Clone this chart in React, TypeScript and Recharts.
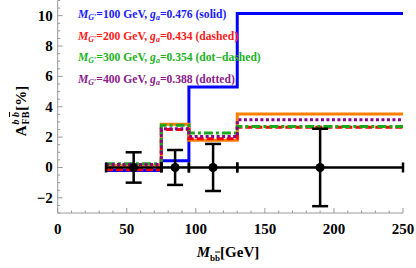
import React from 'react'
import { ComposedChart, Line, Scatter, ErrorBar, XAxis, YAxis } from 'recharts'

// bin edges in M_bb (GeV); last value repeated to close the final step
const binEdges = [35, 75, 95, 130, 250]
const blueSolid = [-0.2, 0.45, 5.3, 10.15, 10.15]
const orangeSolid = [0.15, 2.85, 1.8, 3.53, 3.53]
const redDashed = [-0.15, 2.5, 1.9, 2.65, 2.65]
const greenDotDashed = [0.25, 2.78, 2.27, 2.7, 2.7]
const purpleDotted = [0.2, 2.55, 2.04, 3.14, 3.14]

// measured points
const pointX = [55, 85, 112.5, 190]
const pointXErr = [20, 10, 17.5, 60]
const pointY = [0, 0, 0, 0]
const pointYErr = [1.0, 1.15, 1.55, 2.55]

const xMajorTicks = [0, 50, 100, 150, 200, 250]
const yMajorTicks = [-2, 0, 2, 4, 6, 8, 10]

const xTicks = Array.from({ length: 26 }, (_, i) => i * 10)
const yTicks = Array.from({ length: 29 }, (_, i) => -3 + i * 0.5)

const stepData = binEdges.map((x, i) => ({
  x,
  blue: blueSolid[i],
  orange: orangeSolid[i],
  red: redDashed[i],
  green: greenDotDashed[i],
  purple: purpleDotted[i],
}))

const pointData = pointX.map((x, i) => ({
  x,
  y: pointY[i],
  ex: pointXErr[i],
  ey: pointYErr[i],
}))

const FONT = '"Liberation Serif", "DejaVu Serif", serif'
const TICK_COLOR = '#9a9a9a'

const XTick = (props: any) => {
  const { x, y, payload } = props
  const v = payload.value
  const major = xMajorTicks.includes(v)
  return (
    <g>
      <line x1={x} x2={x} y1={y} y2={y - (major ? 5 : 2.5)} stroke={TICK_COLOR} strokeWidth={1} />
      {major && (
        <text x={x} y={y + 16} textAnchor="middle" dominantBaseline="central"
          fontFamily={FONT} fontWeight="bold" fontSize={15} fill="#000">
          {v}
        </text>
      )}
    </g>
  )
}

const YTick = (props: any) => {
  const { x, y, payload } = props
  const v = payload.value
  const major = yMajorTicks.includes(v)
  return (
    <g>
      <line x1={x} x2={x + (major ? 5 : 2.5)} y1={y} y2={y} stroke={TICK_COLOR} strokeWidth={1} />
      {major && (
        <text x={x - 5} y={y} textAnchor="end" dominantBaseline="central"
          fontFamily={FONT} fontWeight="bold" fontSize={15} fill="#000">
          {v < 0 ? `\u2212${-v}` : v}
        </text>
      )}
    </g>
  )
}

const Dot = (props: any) => <circle cx={props.cx} cy={props.cy} r={4.5} fill="#000" />

const legendRows = [
  { mass: '100', ga: '0.476', style: 'solid', color: '#1a1aff' },
  { mass: '200', ga: '0.434', style: 'dashed', color: '#ff1a1a' },
  { mass: '300', ga: '0.354', style: 'dot\u2212dashed', color: '#1db31d' },
  { mass: '400', ga: '0.388', style: 'dotted', color: '#8b1a8b' },
]

const bbar = <span style={{ textDecoration: 'overline' }}>b</span>

export default function App() {
  return (
    <div style={{ position: 'absolute', left: 0, top: 0, width: 416, height: 268, background: '#fff' }}>
      <ComposedChart width={416} height={268} data={stepData}
        margin={{ top: 0.5, right: 13, bottom: 15, left: 7.7 }}>
        <XAxis type="number" dataKey="x" domain={[0, 250]} ticks={xTicks} interval={0}
          allowDataOverflow height={40} tickSize={0} tickMargin={0} tickLine={false}
          axisLine={{ stroke: TICK_COLOR, strokeWidth: 1 }} tick={<XTick />} />
        <YAxis type="number" domain={[-3, 11]} ticks={yTicks} interval={0}
          allowDataOverflow width={50} tickSize={0} tickMargin={0} tickLine={false}
          axisLine={{ stroke: TICK_COLOR, strokeWidth: 1 }} tick={<YTick />} />
        <Line type="stepAfter" dataKey="blue" stroke="#0000ff" strokeWidth={3} dot={false} isAnimationActive={false} />
        <Line type="stepAfter" dataKey="orange" stroke="#ff8000" strokeWidth={3} dot={false} isAnimationActive={false} />
        <Line type="stepAfter" dataKey="red" stroke="#ff0000" strokeWidth={3} strokeDasharray="7 3" dot={false} isAnimationActive={false} />
        <Line type="stepAfter" dataKey="green" stroke="#1aa81a" strokeWidth={3} strokeDasharray="9 3 3 3" dot={false} isAnimationActive={false} />
        <Line type="stepAfter" dataKey="purple" stroke="#8b008b" strokeWidth={3} strokeDasharray="3 2.5" dot={false} isAnimationActive={false} />
        <Scatter data={pointData} dataKey="y" shape={<Dot />} isAnimationActive={false}>
          <ErrorBar dataKey="ex" direction="x" width={5} stroke="#000" strokeWidth={2.5} isAnimationActive={false} />
          <ErrorBar dataKey="ey" direction="y" width={8} stroke="#000" strokeWidth={2.5} isAnimationActive={false} />
        </Scatter>
      </ComposedChart>

      <div style={{ position: 'absolute', left: 78, top: 6, fontFamily: FONT, fontWeight: 'bold', fontSize: 11.6, lineHeight: '18.5px', whiteSpace: 'nowrap' }}>
        {legendRows.map((r) => (
          <div key={r.mass} style={{ color: r.color }}>
            <i>M</i><sub style={{ fontSize: 8, verticalAlign: '-2px' }}><i>G</i>'</sub>=
            {r.mass} GeV, <i>g</i><sub style={{ fontSize: 8, verticalAlign: '-2px' }}><i>a</i></sub>={r.ga} ({r.style})
          </div>
        ))}
      </div>

      <div style={{ position: 'absolute', left: 21, top: 111, transform: 'translate(-50%, -50%) rotate(-90deg)',
        fontFamily: FONT, fontWeight: 'bold', fontSize: 15, whiteSpace: 'nowrap', display: 'flex', alignItems: 'center' }}>
        <span>A</span>
        <span style={{ display: 'inline-flex', flexDirection: 'column', fontSize: 10, lineHeight: '10px', marginLeft: 1 }}>
          <span><i>b</i> <i>{bbar}</i></span>
          <span>FB</span>
        </span>
        <span style={{ marginLeft: 1 }}>[%]</span>
      </div>

      <div style={{ position: 'absolute', left: 228, top: 253, transform: 'translate(-50%, -50%)',
        fontFamily: FONT, fontWeight: 'bold', fontSize: 15, whiteSpace: 'nowrap' }}>
        <i>M</i><sub style={{ fontSize: 9, verticalAlign: '-4px' }}>b{bbar}</sub>[GeV]
      </div>
    </div>
  )
}
